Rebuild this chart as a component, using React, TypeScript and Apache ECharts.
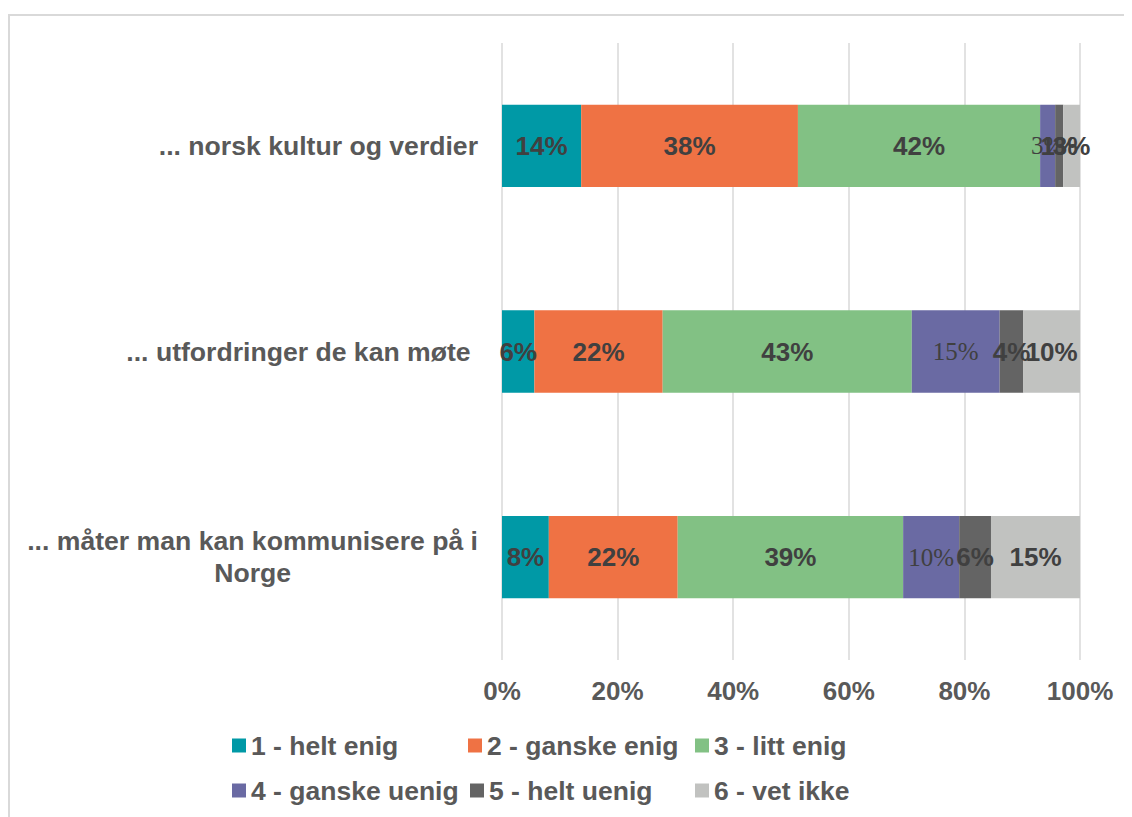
import React, { useEffect, useRef } from "react";
import * as echarts from "echarts";

const categories = [
  "... norsk kultur og verdier",
  "... utfordringer de kan møte ",
  "... måter man kan kommunisere på i Norge",
];
const seriesNames = [
  "1 - helt enig",
  "2 - ganske enig",
  "3 - litt enig",
  "4 - ganske uenig",
  "5 - helt uenig",
  "6 - vet ikke",
];
const helt_enig = [13.7, 5.6, 8.1];
const ganske_enig = [37.5, 22.2, 22.3];
const litt_enig = [41.9, 43.1, 39.0];
const ganske_uenig = [2.6, 15.2, 9.7];
const helt_uenig = [1.4, 4.1, 5.5];
const vet_ikke = [2.9, 9.8, 15.4];
const seriesValues = [helt_enig, ganske_enig, litt_enig, ganske_uenig, helt_uenig, vet_ikke];
const colors = ["#0099A6", "#EF7244", "#82C184", "#6A6AA3", "#646464", "#C1C2C0"];
const xTicks = [0, 20, 40, 60, 80, 100];

const legendPos = [
  [224, 724],
  [460, 724],
  [687, 724],
  [224, 769],
  [462, 769],
  [687, 769],
];

export default function App() {
  const ref = useRef<HTMLDivElement>(null);
  useEffect(() => {
    if (!ref.current) return;
    const chart = echarts.init(ref.current, null, { renderer: "svg" });
    const sans = "Liberation Sans, Arial, sans-serif";
    const option: any = {
      animation: false,
      backgroundColor: "#ffffff",
      graphic: [
        {
          type: "rect",
          silent: true,
          shape: { x: 1, y: 7, width: 3000, height: 3000 },
          style: { fill: "none", stroke: "#d9d9d9", lineWidth: 2 },
          z: -1,
        },
      ],
      legend: seriesNames.map((n, i) => ({
        data: [n],
        left: legendPos[i][0],
        top: legendPos[i][1],
        padding: 0,
        itemWidth: 14,
        itemHeight: 14,
        itemGap: 0,
        icon: "rect",
        selectedMode: false,
        textStyle: { fontSize: 26.5, fontWeight: "bold", color: "#595959", fontFamily: sans },
      })),
      grid: { left: 494, right: 52, top: 35, bottom: 157, containLabel: false },
      xAxis: {
        type: "value",
        min: xTicks[0],
        max: xTicks[xTicks.length - 1],
        interval: 20,
        axisLine: { show: false },
        axisTick: { show: false },
        splitLine: { show: true, lineStyle: { color: "#d9d9d9", width: 1.5 } },
        axisLabel: {
          formatter: "{value}%",
          fontSize: 26,
          fontWeight: "bold",
          color: "#595959",
          fontFamily: sans,
          margin: 18,
        },
      },
      yAxis: {
        type: "category",
        inverse: true,
        data: categories,
        axisLine: { show: false },
        axisTick: { show: false },
        axisLabel: {
          margin: 24,
          fontSize: 26.6,
          fontWeight: "bold",
          color: "#595959",
          fontFamily: sans,
          formatter: (v: string) => {
            if (v.length > 32) {
              const idx = v.lastIndexOf(" ");
              return "{a|" + v.slice(0, idx) + "}\n{b|" + v.slice(idx + 1) + "}";
            }
            return v;
          },
          rich: {
            a: { fontSize: 26.6, fontWeight: "bold", color: "#595959", fontFamily: sans, lineHeight: 32 },
            b: { fontSize: 26.6, fontWeight: "bold", color: "#595959", fontFamily: sans, lineHeight: 32, align: "center" },
          },
        },
      },
      series: seriesNames.map((n, i) => ({
        name: n,
        type: "bar",
        stack: "total",
        barWidth: "40%",
        data: seriesValues[i],
        itemStyle: { color: colors[i] },
        label: {
          show: true,
          position: "inside",
          formatter: (p: any) => Math.round(p.value) + "%",
          color: "#404040",
          textBorderWidth: 0,
          fontSize: i === 3 ? 25 : 26,
          fontWeight: i === 3 ? "normal" : "bold",
          fontFamily: i === 3 ? "Liberation Serif, Times New Roman, serif" : sans,
        },
      })),
    };
    chart.setOption(option);
    return () => chart.dispose();
  }, []);
  return <div ref={ref} style={{ width: 1124, height: 809 }} />;
}
